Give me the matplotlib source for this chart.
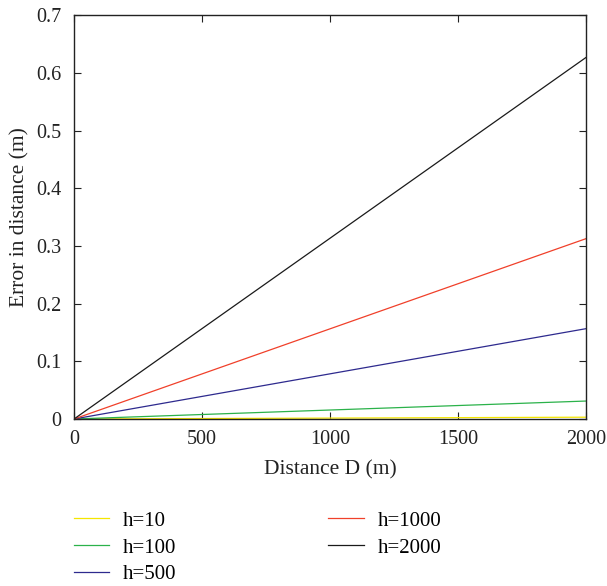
import matplotlib.pyplot as plt
import numpy as np

plt.rcParams['font.family'] = ['Liberation Serif', 'DejaVu Serif']

distance = [0, 2000]
labels = ['h=10', 'h=100', 'h=500', 'h=1000', 'h=2000']
errors = [
    [0, 0.0031],
    [0, 0.0311],
    [0, 0.1565],
    [0, 0.3125],
    [0, 0.6265],
]
colors = ['#f5e600', '#2bb24a', '#2e2a8e', '#f0402a', '#1a1a1a']

fig = plt.figure(figsize=(6.07, 5.86), dpi=100)
ax = fig.add_axes([0.122, 0.285, 0.843, 0.689])

for err, lab, col in zip(errors, labels, colors):
    ax.plot(distance, err, '-', color=col, lw=0.9, label=lab)

ax.set_xlim(0, 2000)
ax.set_ylim(0, 0.7)
ax.set_xticks([0, 500, 1000, 1500, 2000])
ax.set_yticks(np.arange(0, 0.71, 0.1))
ax.set_yticklabels(['0', '0.1', '0.2', '0.3', '0.4', '0.5', '0.6', '0.7'])
ax.tick_params(direction='in', top=True, right=True, length=5, width=0.8,
               labelsize=14.5, colors='#222222')
ax.tick_params(axis='x', pad=8)
ax.tick_params(axis='y', pad=9)
for s in ax.spines.values():
    s.set_linewidth(1.0)
    s.set_color('#222222')

ax.set_xlabel('Distance D (m)', fontsize=15.5, color='#222222', labelpad=8)
ax.set_ylabel('Error in distance (m)', fontsize=15.5, color='#222222', labelpad=5)

fig.legend(loc='upper left', bbox_to_anchor=(0.108, 0.142), ncol=2,
           frameon=False, fontsize=15, handlelength=1.7, handletextpad=0.65,
           columnspacing=7.3, labelspacing=0.35, borderaxespad=0)

fig.savefig('out.png', dpi=100)
